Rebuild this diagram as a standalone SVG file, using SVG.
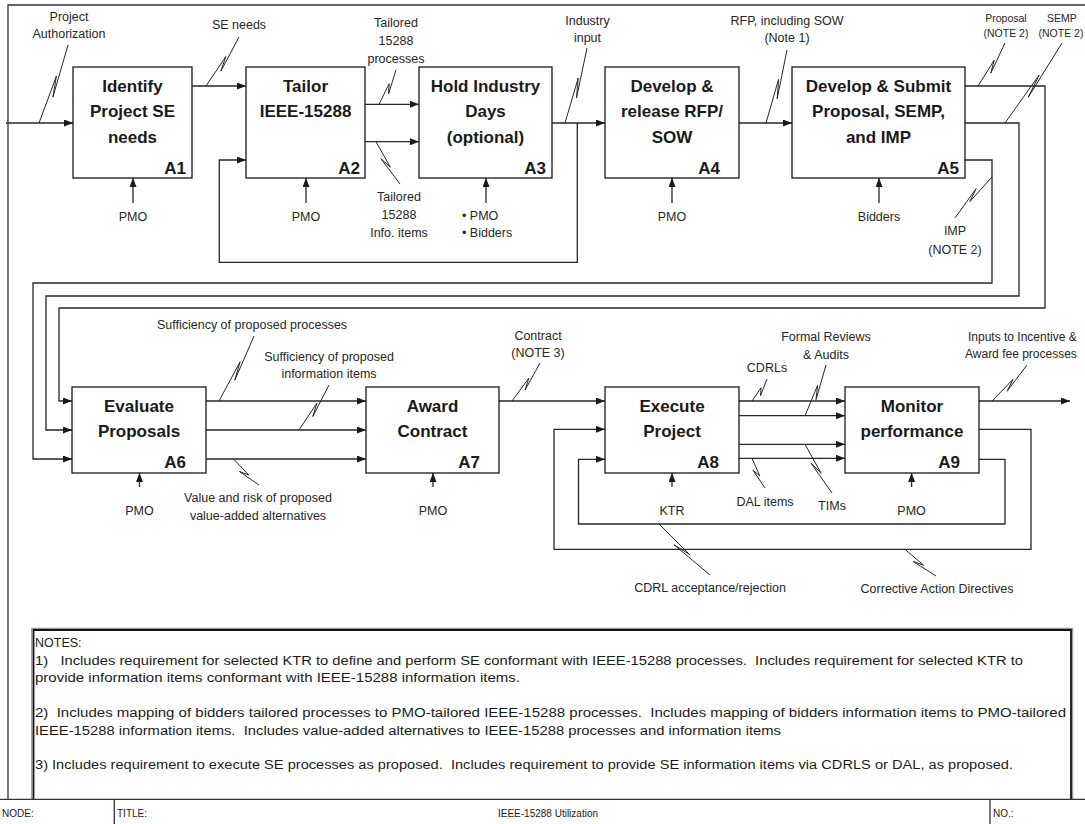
<svg xmlns="http://www.w3.org/2000/svg" width="1085" height="824" viewBox="0 0 1085 824">
<style>
.bg{fill:#ffffff}
.box{fill:#ffffff;stroke:#1a1a1a;stroke-width:1.3}
.c{fill:none;stroke:#262626;stroke-width:1.3}
.a{fill:none;stroke:#262626;stroke-width:1.3;marker-end:url(#ah)}
.sq{fill:none;stroke:#262626;stroke-width:1}
.t{font-family:"Liberation Sans",Arial,sans-serif;font-size:17px;font-weight:bold;fill:#1a1a1a;text-anchor:middle}
.id{font-family:"Liberation Sans",Arial,sans-serif;font-size:17px;font-weight:bold;fill:#1a1a1a;text-anchor:end}
.l{font-family:"Liberation Sans",Arial,sans-serif;font-size:12.5px;fill:#262626;text-anchor:middle}
.ls{font-family:"Liberation Sans",Arial,sans-serif;font-size:10.5px;fill:#262626;text-anchor:middle}
.lst{font-family:"Liberation Sans",Arial,sans-serif;font-size:12.5px;fill:#262626;text-anchor:start}
.n{font-family:"Liberation Sans",Arial,sans-serif;font-size:12.5px;fill:#1a1a1a;white-space:pre}
.b{font-family:"Liberation Sans",Arial,sans-serif;font-size:10px;fill:#1a1a1a}
.frame{fill:none;stroke:#333333;stroke-width:1.3}
</style>
<defs>
<marker id="ah" markerUnits="userSpaceOnUse" markerWidth="9" markerHeight="7" refX="9" refY="3.5" orient="auto">
<path d="M0,0 L9,3.5 L0,7 z" fill="#1a1a1a"/>
</marker>
</defs>
<rect class="bg" x="0" y="0" width="1085" height="824"/>
<g id="frame">
<path class="frame" d="M8,799 V5 H1085"/>
<path d="M31.7,799 V628.3 H1072.6 V799" fill="none" stroke="#9a9a9a" stroke-width="1.2"/>
<path d="M33.5,799 V630 H1071 V799" fill="none" stroke="#111111" stroke-width="1.8"/>
<path class="frame" d="M0,799.3 H1085 M114.3,799.3 V824 M990,799.3 V824"/>
<text class="b" x="2" y="817">NODE:</text>
<text class="b" x="117" y="817">TITLE:</text>
<text class="b" x="548" y="817" text-anchor="middle">IEEE-15288 Utilization</text>
<text class="b" x="993" y="817">NO.:</text>
</g>
<g id="notes">
<text class="n" x="35" y="647">NOTES:</text>
<text class="n" x="35" y="664.5" textLength="988" lengthAdjust="spacingAndGlyphs">1)   Includes requirement for selected KTR to define and perform SE conformant with IEEE-15288 processes.  Includes requirement for selected KTR to</text>
<text class="n" x="35" y="682" textLength="485" lengthAdjust="spacingAndGlyphs">provide information items conformant with IEEE-15288 information items.</text>
<text class="n" x="35" y="717" textLength="1031" lengthAdjust="spacingAndGlyphs">2)  Includes mapping of bidders tailored processes to PMO-tailored IEEE-15288 processes.  Includes mapping of bidders information items to PMO-tailored</text>
<text class="n" x="35" y="734.5" textLength="746" lengthAdjust="spacingAndGlyphs">IEEE-15288 information items.  Includes value-added alternatives to IEEE-15288 processes and information items</text>
<text class="n" x="35" y="768.5" textLength="978" lengthAdjust="spacingAndGlyphs">3) Includes requirement to execute SE processes as proposed.  Includes requirement to provide SE information items via CDRLS or DAL, as proposed.</text>
</g>
<g id="connectors">
<path class="a" d="M6,123 H73"/>
<path class="a" d="M192,86 H246"/>
<path class="a" d="M365,104.3 H419"/>
<path class="a" d="M365,141.7 H419"/>
<path class="a" d="M552,123 H605"/>
<path class="a" d="M577.3,123 V262.3 H219.3 V160 H246"/>
<path class="a" d="M739,123 H792"/>
<path class="a" d="M965,86 H1045 V308 H59 V401 H72"/>
<path class="a" d="M965,123 H1019 V296 H46 V430 H72"/>
<path class="a" d="M965,160 H992 V283 H33 V459 H72"/>
<path class="a" d="M133,203 V178"/>
<path class="a" d="M306,203 V178"/>
<path class="a" d="M486,203 V178"/>
<path class="a" d="M672,203 V178"/>
<path class="a" d="M879,203 V178"/>
<path class="a" d="M206,401 H366"/>
<path class="a" d="M206,430 H366"/>
<path class="a" d="M206,459 H366"/>
<path class="a" d="M499,401 H605"/>
<path class="a" d="M739,401 H845"/>
<path class="a" d="M739,415.7 H845"/>
<path class="a" d="M739,444.3 H845"/>
<path class="a" d="M739,458.3 H845"/>
<path class="a" d="M979,401 H1070"/>
<path class="a" d="M979,429.3 H1031 V549.3 H554 V429.3 H605"/>
<path class="a" d="M979,459.3 H1005 V524 H578.5 V459.3 H605"/>
<path class="a" d="M139.5,487 V473"/>
<path class="a" d="M433,487 V473"/>
<path class="a" d="M672,487 V473"/>
<path class="a" d="M911.6,487 V473"/>
<path class="sq" d="M39,123 L56.4,76.2 L52.9,97.1 L68,45"/>
<path class="sq" d="M206,86 L225.8,56.6 L220.9,71.1 L239,37"/>
<path class="sq" d="M379,104.3 L389.2,83.6 L388.5,93.9 L396,70"/>
<path class="sq" d="M376,141.7 L390.4,167.2 L380.9,158.7 L400,184"/>
<path class="sq" d="M565,123 L578.2,78 L576.5,97.9 L587,48"/>
<path class="sq" d="M766,123 L778.6,79.2 L777.2,98.6 L787,50"/>
<path class="sq" d="M978,86 L994.2,60.2 L990.8,73.1 L1005,43"/>
<path class="sq" d="M1005,123 L1039.2,75 L1028.2,97.3 L1062,43"/>
<path class="sq" d="M992,177 L969.8,201.6 L976.1,188.7 L955,218"/>
<path class="sq" d="M219,401 L240,362 L234.8,380.2 L254,336"/>
<path class="sq" d="M299,430 L317,403 L312.8,416.5 L329,385"/>
<path class="sq" d="M233.5,459 L248.8,475 L239.6,471.6 L259,485"/>
<path class="sq" d="M512,401 L528.8,378.2 L525,390.1 L540,363"/>
<path class="sq" d="M752,401 L761,387.8 L760.6,395.6 L767,379"/>
<path class="sq" d="M805,415.7 L817.6,385.4 L816,399.7 L826,365"/>
<path class="sq" d="M752,458.3 L759.8,476 L752.9,470.1 L765,488"/>
<path class="sq" d="M805,444.3 L821.2,473.4 L811,463.1 L832,493"/>
<path class="sq" d="M992,401 L1013,379.4 L1007.1,391.2 L1027,365"/>
<path class="sq" d="M659,524 L689.6,554.6 L674,544.7 L710,575"/>
<path class="sq" d="M905,549.3 L923.6,565.2 L913.2,561.5 L936,576"/>
<text class="l" x="69" y="21">Project</text>
<text class="l" x="69" y="38">Authorization</text>
<text class="l" x="239" y="29">SE needs</text>
<text class="l" x="396" y="27">Tailored</text>
<text class="l" x="396" y="45">15288</text>
<text class="l" x="396" y="63">processes</text>
<text class="l" x="399" y="201">Tailored</text>
<text class="l" x="399" y="219">15288</text>
<text class="l" x="399" y="237">Info. items</text>
<text class="l" x="133" y="221">PMO</text>
<text class="l" x="306" y="221">PMO</text>
<text class="lst" x="462" y="219.5">•  PMO</text>
<text class="lst" x="462" y="237">•  Bidders</text>
<text class="l" x="672" y="221">PMO</text>
<text class="l" x="879" y="221">Bidders</text>
<text class="l" x="587.5" y="24.5">Industry</text>
<text class="l" x="587.5" y="42">input</text>
<text class="l" x="787" y="25">RFP, including SOW</text>
<text class="l" x="787" y="42">(Note 1)</text>
<text class="ls" x="1006" y="22">Proposal</text>
<text class="ls" x="1006" y="37">(NOTE 2)</text>
<text class="ls" x="1062" y="22">SEMP</text>
<text class="ls" x="1061" y="37">(NOTE 2)</text>
<text class="l" x="955" y="234.5">IMP</text>
<text class="l" x="955" y="254">(NOTE 2)</text>
<text class="l" x="252" y="329">Sufficiency of proposed processes</text>
<text class="l" x="329" y="360.5">Sufficiency of proposed</text>
<text class="l" x="329" y="378">information items</text>
<text class="l" x="258" y="502">Value and risk of proposed</text>
<text class="l" x="258" y="520">value-added alternatives</text>
<text class="l" x="139.5" y="515">PMO</text>
<text class="l" x="433" y="515">PMO</text>
<text class="l" x="538" y="339.5">Contract</text>
<text class="l" x="538" y="356.5">(NOTE 3)</text>
<text class="l" x="767" y="372">CDRLs</text>
<text class="l" x="826" y="341">Formal Reviews</text>
<text class="l" x="826" y="359">&amp; Audits</text>
<text class="l" x="765" y="506">DAL items</text>
<text class="l" x="832" y="510">TIMs</text>
<text class="l" x="672" y="515">KTR</text>
<text class="l" x="911.6" y="515">PMO</text>
<text class="lst" x="968" y="340.5" style="font-size:12px">Inputs to Incentive &amp;</text>
<text class="lst" x="965" y="358" style="font-size:12px">Award fee processes</text>
<text class="l" x="710" y="592">CDRL acceptance/rejection</text>
<text class="l" x="937" y="592.5">Corrective Action Directives</text>
</g>
<g id="A1">
<rect class="box" x="73" y="67" width="119" height="111"/>
<text class="t" x="132.5" y="92">Identify</text>
<text class="t" x="132.5" y="117">Project SE</text>
<text class="t" x="132.5" y="142.7">needs</text>
<text class="id" x="186" y="174">A1</text>
</g>
<g id="A2">
<rect class="box" x="246" y="67" width="119" height="111"/>
<text class="t" x="305.5" y="92">Tailor</text>
<text class="t" x="305.5" y="117">IEEE-15288</text>
<text class="id" x="360" y="174">A2</text>
</g>
<g id="A3">
<rect class="box" x="419" y="67" width="133" height="111"/>
<text class="t" x="485.5" y="92">Hold Industry</text>
<text class="t" x="485.5" y="117">Days</text>
<text class="t" x="485.5" y="142.7">(optional)</text>
<text class="id" x="546" y="174">A3</text>
</g>
<g id="A4">
<rect class="box" x="605" y="67" width="134" height="111"/>
<text class="t" x="672" y="92">Develop &amp;</text>
<text class="t" x="672" y="117">release RFP/</text>
<text class="t" x="672" y="142.7">SOW</text>
<text class="id" x="720" y="174">A4</text>
</g>
<g id="A5">
<rect class="box" x="792" y="67" width="173" height="111"/>
<text class="t" x="878.5" y="92">Develop &amp; Submit</text>
<text class="t" x="878.5" y="117">Proposal, SEMP,</text>
<text class="t" x="878.5" y="142.7">and IMP</text>
<text class="id" x="959" y="174">A5</text>
</g>
<g id="A6">
<rect class="box" x="72" y="387" width="134" height="86"/>
<text class="t" x="139" y="412">Evaluate</text>
<text class="t" x="139" y="437">Proposals</text>
<text class="id" x="186" y="468">A6</text>
</g>
<g id="A7">
<rect class="box" x="366" y="387" width="133" height="86"/>
<text class="t" x="432.5" y="412">Award</text>
<text class="t" x="432.5" y="437">Contract</text>
<text class="id" x="480" y="468">A7</text>
</g>
<g id="A8">
<rect class="box" x="605" y="387" width="134" height="86"/>
<text class="t" x="672" y="412">Execute</text>
<text class="t" x="672" y="437">Project</text>
<text class="id" x="719" y="468">A8</text>
</g>
<g id="A9">
<rect class="box" x="845" y="387" width="134" height="86"/>
<text class="t" x="912" y="412">Monitor</text>
<text class="t" x="912" y="437">performance</text>
<text class="id" x="960" y="468">A9</text>
</g>
</svg>
